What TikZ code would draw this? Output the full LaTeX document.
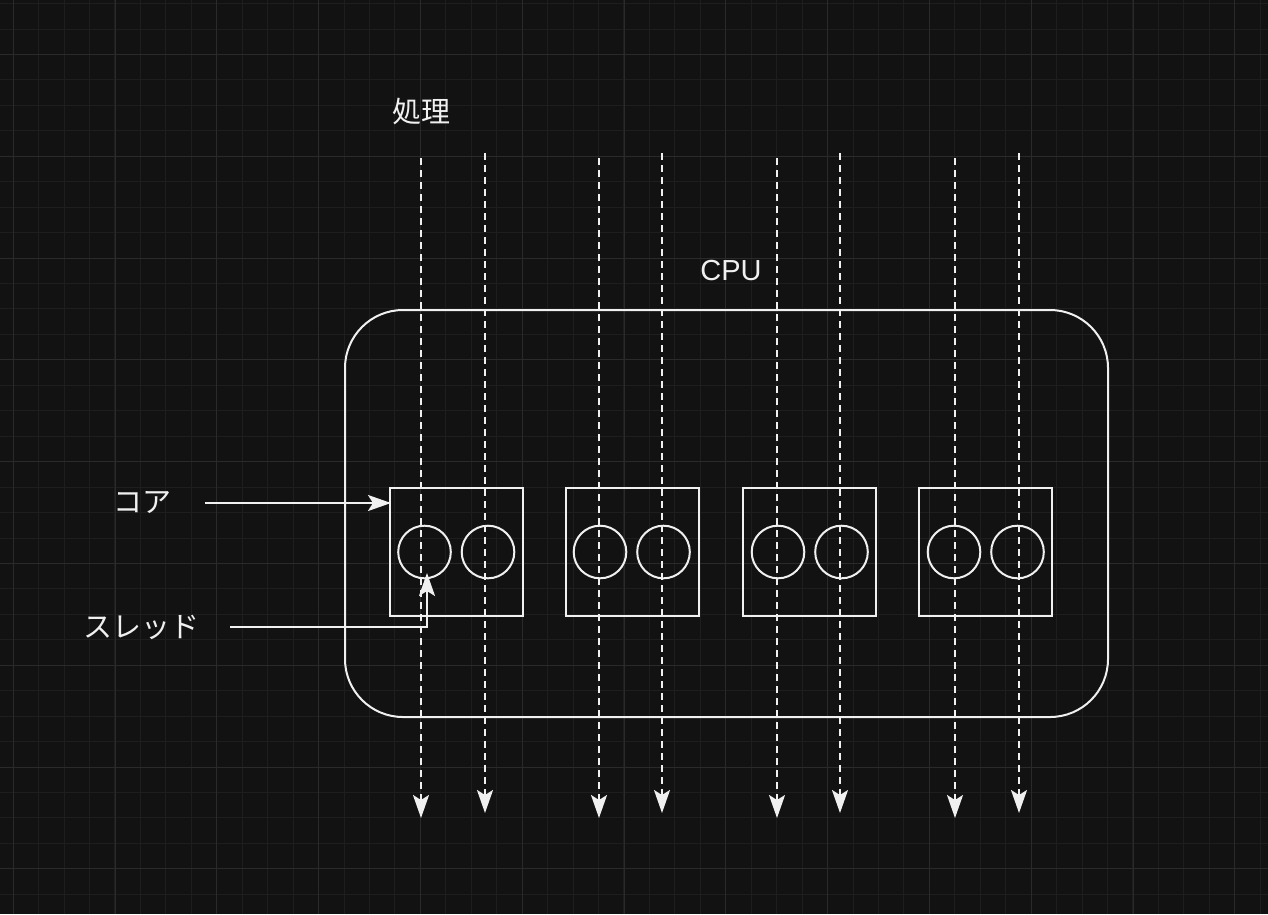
\documentclass[tikz,border=0pt]{standalone}
\usepackage{fontspec}
\setmainfont{Liberation Sans}
\newfontfamily\jpfont{Noto Sans CJK JP}
\usetikzlibrary{arrows.meta}
\definecolor{bgcol}{HTML}{121212}
\definecolor{minorcol}{HTML}{1E1E1E}
\definecolor{majorcol}{HTML}{2A2A2A}
\definecolor{fg}{HTML}{F0F0F0}
\tikzset{
  minorgrid/.style={draw=minorcol, line width=1pt},
  majorgrid/.style={draw=majorcol, line width=1pt},
  shapeline/.style={draw=fg, line width=2pt},
  corebox/.style={shapeline, minimum width=133pt, minimum height=128pt, inner sep=0pt},
  thread/.style={shapeline, circle, minimum size=52.6pt, inner sep=0pt},
  lbl/.style={text=fg, font=\fontsize{29}{34}\selectfont, inner sep=0pt},
  jlbl/.style={text=fg, font=\jpfont\fontsize{29}{34}\selectfont, inner sep=0pt},
  tip/.style={-{Stealth[length=23pt, width=16pt, inset=5pt]}},
  flow/.style={draw=fg, line width=2pt, dash pattern=on 7pt off 5pt, tip},
  pointer/.style={draw=fg, line width=2pt, tip}
}
\begin{document}
\begin{tikzpicture}[x=1pt, y=-1pt]
\fill[bgcol] (0,0) rectangle (1268,914);
\useasboundingbox (0,0) rectangle (1268,914);
% grid
\foreach \i in {0,...,49} {
  \pgfmathsetmacro\xx{round(12.7+25.45*\i)+0.5}
  \draw[minorgrid] (\xx,0) -- (\xx,914);
}
\foreach \i in {0,...,35} {
  \pgfmathsetmacro\yy{round(3.1+25.45*\i)+0.5}
  \draw[minorgrid] (0,\yy) -- (1268,\yy);
}
\foreach \i in {0,...,12} {
  \pgfmathsetmacro\xx{round(12.7+101.8*\i)+0.5}
  \draw[majorgrid] (\xx,0) -- (\xx,914);
}
\foreach \i in {0,...,8} {
  \pgfmathsetmacro\yy{round(54+101.8*\i)+0.5}
  \draw[majorgrid] (0,\yy) -- (1268,\yy);
}
% labels
\node[jlbl] (proc) at (421,112) {処理};
\node[lbl] (cpulabel) at (731,271) {CPU};
\node[jlbl] (corelabel) at (142,502) {コア};
\node[jlbl] (threadlabel) at (141,627) {スレッド};
% CPU
\node[shapeline, rounded corners=58pt, minimum width=763pt, minimum height=407pt, inner sep=0pt] (cpu) at (726.5,513.5) {};
% cores
\node[corebox] (core1) at (456.5,552) {};
\node[corebox] (core2) at (632,552) {};
\node[corebox] (core3) at (809.5,552) {};
\node[corebox] (core4) at (985.7,552) {};
% threads
\node[thread] (t1a) at (424.5,552) {};
\node[thread] (t1b) at (488,552) {};
\node[thread] (t2a) at (600,552) {};
\node[thread] (t2b) at (663.5,552) {};
\node[thread] (t3a) at (778,552) {};
\node[thread] (t3b) at (841.5,552) {};
\node[thread] (t4a) at (954,552) {};
\node[thread] (t4b) at (1017.5,552) {};
% flows
\foreach \n/\x in {1/421,3/599,5/777,7/955} {
  \coordinate (fs\n) at (\x,158);
  \coordinate (fe\n) at (\x,818);
  \draw[flow] (fs\n) -- (fe\n);
}
\foreach \n/\x in {2/485,4/662,6/840,8/1019} {
  \coordinate (fs\n) at (\x,153);
  \coordinate (fe\n) at (\x,813);
  \draw[flow] (fs\n) -- (fe\n);
}
% pointers
\coordinate (cstart) at (205,503);
\draw[pointer] (cstart) -- ([xshift=2pt]core1.west |- cstart);
\coordinate (tstart) at (230,627);
\coordinate (tbend) at (427,627);
\coordinate (ttip) at (427,573);
\draw[pointer] (tstart) -- (tbend) -- (ttip);
\end{tikzpicture}
\end{document}
